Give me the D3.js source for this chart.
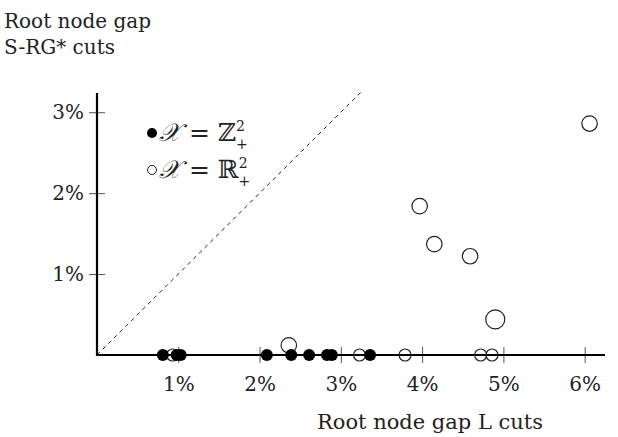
<!DOCTYPE html>
<html>
<head>
<meta charset="utf-8">
<script src="https://cdn.jsdelivr.net/npm/d3@7"></script>
<style>
    body { margin: 0; background: #fff; }
    svg text { font-family: "DejaVu Serif", "Liberation Serif", serif; fill: #222; }
</style>
</head>
<body>
<div id="container"></div>
<script>
// gaps in percent: x = L cuts, y = S-RG* cuts
const integerX = [0.81, 0.98, 1.03, 2.09, 2.39, 2.61, 2.83, 2.89, 3.36];
const integerY = [0, 0, 0, 0, 0, 0, 0, 0, 0];
const realX = [0.93, 3.23, 3.79, 4.72, 4.86, 2.36, 3.97, 4.15, 4.59, 4.90, 6.06];
const realY = [0, 0, 0, 0, 0, 0.12, 1.84, 1.37, 1.22, 0.44, 2.86];
const realSize = [1, 1, 1, 1, 1, 1.3, 1.3, 1.3, 1.3, 1.6, 1.3];
const xTicks = [1, 2, 3, 4, 5, 6];
const yTicks = [1, 2, 3];

const width = 618, height = 437;

let svg = d3.select("#container").append("svg")
    .attr("width", width)
    .attr("height", height);

let x = d3.scaleLinear().domain([0, 6.25]).range([97, 605]);
let y = d3.scaleLinear().domain([0, 3.25]).range([355, 92]);
let r = d3.scaleLinear().domain([1, 1.6]).range([6, 9.5]);

// diagonal y = x
svg.append("line")
    .attr("x1", x(0)).attr("y1", y(0))
    .attr("x2", x(3.25)).attr("y2", y(3.25))
    .attr("stroke", "#222")
    .attr("stroke-width", 1)
    .attr("stroke-dasharray", "4,4");

// axes
let xAxis = svg.append("g")
    .attr("transform", `translate(0,${y(0)})`)
    .call(d3.axisBottom(x).tickValues(xTicks).tickSize(8).tickPadding(14)
        .tickFormat(d => d + "%"));
let yAxis = svg.append("g")
    .attr("transform", `translate(${x(0)},0)`)
    .call(d3.axisLeft(y).tickValues(yTicks).tickSize(8).tickPadding(5)
        .tickFormat(d => d + "%"));

[xAxis, yAxis].forEach(g => {
    g.select(".domain").remove();
    g.selectAll(".tick line").attr("stroke", "#555").attr("stroke-width", 1);
    g.selectAll(".tick text").attr("font-size", 20).attr("fill", "#222")
        .style("font-family", "'DejaVu Serif', serif");
});
xAxis.selectAll(".tick line").attr("y1", -8);
yAxis.selectAll(".tick line").attr("x1", 8);

svg.append("line")
    .attr("x1", x(0)).attr("y1", y(0))
    .attr("x2", 605).attr("y2", y(0))
    .attr("stroke", "#000").attr("stroke-width", 2.2);
svg.append("line")
    .attr("x1", x(0)).attr("y1", y(0) + 1)
    .attr("x2", x(0)).attr("y2", 93)
    .attr("stroke", "#000").attr("stroke-width", 2.2);

// points
svg.append("g").selectAll("circle")
    .data(realX.map((v, i) => [v, realY[i], realSize[i]]))
    .join("circle")
    .attr("cx", d => x(d[0]))
    .attr("cy", d => y(d[1]))
    .attr("r", d => r(d[2]))
    .attr("fill", "none")
    .attr("stroke", "#222")
    .attr("stroke-width", 1.2);

svg.append("g").selectAll("circle")
    .data(integerX.map((v, i) => [v, integerY[i]]))
    .join("circle")
    .attr("cx", d => x(d[0]))
    .attr("cy", d => y(d[1]))
    .attr("r", 6)
    .attr("fill", "#000");

// axis titles
svg.append("text").attr("x", 4).attr("y", 28).attr("font-size", 20).text("Root node gap");
svg.append("text").attr("x", 4).attr("y", 54).attr("font-size", 20).text("S-RG* cuts");
svg.append("text").attr("x", 430).attr("y", 429).attr("font-size", 21)
    .attr("text-anchor", "middle").text("Root node gap L cuts");

// legend
let legend = [["ℤ", true], ["ℝ", false]];
legend.forEach((d, i) => {
    let ly = 133 + i * 37;
    svg.append("circle")
        .attr("cx", 152).attr("cy", ly).attr("r", d[1] ? 5 : 4.5)
        .attr("fill", d[1] ? "#000" : "none")
        .attr("stroke", "#222").attr("stroke-width", d[1] ? 0 : 1);
    let t = svg.append("text").attr("x", 159).attr("y", ly + 8).attr("font-size", 25);
    t.append("tspan").attr("font-style", "italic").text("𝒳");
    t.append("tspan").text(" = " + d[0]);
    t.append("tspan").attr("font-size", 14).attr("dy", -10).text("2");
    t.append("tspan").attr("font-size", 14).attr("dx", -9).attr("dy", 18).text("+");
});
</script>
</body>
</html>
